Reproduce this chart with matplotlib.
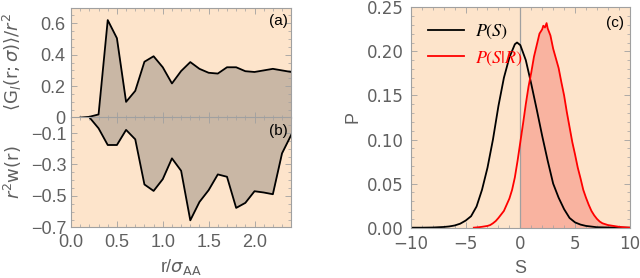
import matplotlib
matplotlib.use("Agg")
import matplotlib.pyplot as plt
from matplotlib.font_manager import FontProperties
from matplotlib.ticker import MultipleLocator

# Panel (a)/(b): pair correlation and r^2 w(r) vs r/sigma_AA
r_a = [0.1, 0.2, 0.3, 0.4, 0.5, 0.6, 0.7, 0.8, 0.9, 1.0, 1.1, 1.2, 1.3, 1.4,
       1.5, 1.6, 1.7, 1.8, 1.9, 2.0, 2.1, 2.2, 2.3, 2.4]
g_a = [0.0, 0.005, 0.02, 0.62, 0.505, 0.10, 0.17, 0.355, 0.39, 0.32, 0.217, 0.296,
       0.353, 0.31, 0.285, 0.28, 0.32, 0.32, 0.295, 0.29, 0.30, 0.31, 0.30, 0.29]

r_b = [0.2, 0.3, 0.4, 0.5, 0.6, 0.7, 0.8, 0.9, 1.0, 1.1, 1.2, 1.3, 1.4, 1.5,
       1.6, 1.7, 1.8, 1.9, 2.0, 2.1, 2.2, 2.3, 2.4]
w_b = [0.0, -0.07, -0.176, -0.176, -0.08, -0.14, -0.427, -0.468, -0.393, -0.261,
       -0.34, -0.655, -0.538, -0.463, -0.363, -0.378, -0.576, -0.544, -0.47,
       -0.478, -0.489, -0.229, -0.112]

# Panel (c): distributions P(S) and P(S|R)
s_all = [-10, -9, -8, -7, -6.5, -6, -5.5, -5, -4.5, -4, -3.5, -3, -2.5, -2, -1.5,
         -1, -0.5, -0.3, 0, 0.5, 1, 1.5, 2, 2.5, 3, 3.5, 4, 4.5, 5, 5.5, 6, 7, 8, 9, 10]
p_all = [0.0, 0.0, 0.0002, 0.0008, 0.0014, 0.0025, 0.0045, 0.008, 0.013, 0.024,
         0.043, 0.068, 0.100, 0.138, 0.170, 0.193, 0.208, 0.210, 0.207, 0.190,
         0.163, 0.134, 0.104, 0.076, 0.050, 0.034, 0.021, 0.011, 0.006, 0.0035,
         0.002, 0.0005, 0.0002, 0.0, 0.0]

s_r = [-4.25, -4, -3.75, -3.5, -3.25, -3, -2.75, -2.5, -2.25, -2, -1.75, -1.5,
       -1.25, -1, -0.75, -0.5, -0.25, 0, 0.25, 0.5, 0.75, 1, 1.25, 1.5, 1.75, 2,
       2.1, 2.25, 2.4, 2.5, 2.75, 3, 3.25, 3.5, 3.75, 4, 4.25, 4.5, 4.75, 5, 5.25,
       5.5, 5.75, 6, 6.25, 6.5, 6.75, 7, 7.25, 7.5, 7.75, 8, 8.5, 9, 9.5, 10]
p_r = [0.0, 0.0003, 0.0006, 0.001, 0.0015, 0.002, 0.003, 0.005, 0.0075, 0.011,
       0.015, 0.019, 0.026, 0.033, 0.043, 0.057, 0.076, 0.097, 0.118, 0.140,
       0.160, 0.176, 0.194, 0.207, 0.220, 0.225, 0.229, 0.227, 0.232, 0.226,
       0.218, 0.203, 0.192, 0.181, 0.165, 0.150, 0.131, 0.114, 0.097, 0.083,
       0.068, 0.056, 0.043, 0.034, 0.026, 0.019, 0.014, 0.010, 0.007, 0.005,
       0.004, 0.003, 0.002, 0.001, 0.0005, 0.0]

BG = "#fde4cb"
TAUPE = "#c9b7a5"
SALMON = "#f9b3a0"
FRAME = "#a0a0a0"
TXT = "#606060"

plt.rcParams["font.family"] = ["Liberation Sans", "DejaVu Sans"]
plt.rcParams["font.size"] = 13
plt.rcParams["mathtext.fontset"] = "dejavusans"

fig = plt.figure(figsize=(6.4, 2.78), dpi=100)
ax_a = fig.add_axes([0.111, 0.577, 0.344, 0.396])
ax_b = fig.add_axes([0.111, 0.182, 0.344, 0.396])
ax_c = fig.add_axes([0.642, 0.181, 0.342, 0.793])


def style(ax, size=13):
    ax.set_facecolor(BG)
    for sp in ax.spines.values():
        sp.set_color(FRAME)
        sp.set_linewidth(0.8)
    ax.tick_params(which="both", direction="in", top=True, right=True,
                   color=FRAME, labelcolor=TXT, labelsize=size)
    ax.tick_params(which="major", length=4, width=0.6)
    ax.tick_params(which="minor", length=2, width=0.5)


# (a)
style(ax_a)
ax_a.fill_between(r_a, g_a, 0, color=TAUPE, lw=0)
ax_a.plot(r_a, g_a, color="black", lw=1.3)
ax_a.set_xlim(0, 2.4)
ax_a.set_ylim(0, 0.7)
ax_a.set_yticks([0, 0.2, 0.4, 0.6])
ax_a.set_yticklabels(["0", "0.2", "0.4", "0.6"])
ax_a.yaxis.set_minor_locator(MultipleLocator(0.05))
ax_a.xaxis.set_major_locator(MultipleLocator(0.5))
ax_a.xaxis.set_minor_locator(MultipleLocator(0.1))
ax_a.tick_params(labelbottom=False, pad=4)
ax_a.text(0.985, 0.88, "(a)", transform=ax_a.transAxes, ha="right", va="center",
          fontsize=11, color="black")
ax_a.set_ylabel(r"$\langle \mathrm{G}_{l}(\mathrm{r};\sigma)\rangle/r^2$",
                color=TXT, fontsize=13, labelpad=2)

# (b)
style(ax_b)
ax_b.fill_between(r_b, w_b, 0, color=TAUPE, lw=0)
ax_b.plot(r_b, w_b, color="black", lw=1.3)
ax_b.set_xlim(0, 2.4)
ax_b.set_ylim(-0.7, 0)
ax_b.set_yticks([-0.1, -0.3, -0.5, -0.7])
ax_b.set_yticklabels(["\u22120.1", "\u22120.3", "\u22120.5", "\u22120.7"])
ax_b.yaxis.set_minor_locator(MultipleLocator(0.05))
ax_b.xaxis.set_minor_locator(MultipleLocator(0.1))
ax_b.set_xticks([0, 0.5, 1.0, 1.5, 2.0])
ax_b.set_xticklabels(["0.0", "0.5", "1.0", "1.5", "2.0"])
ax_b.tick_params(axis="x", pad=5)
ax_b.text(0.985, 0.88, "(b)", transform=ax_b.transAxes, ha="right", va="center",
          fontsize=11, color="black")
ax_b.set_ylabel(r"$r^2\mathrm{w(r)}$", color=TXT, fontsize=13)
ax_b.set_xlabel(r"r/$\sigma_{\mathrm{AA}}$", color=TXT, fontsize=13, labelpad=4)
ax_b.yaxis.set_label_coords(-0.215, 0.5)
ax_a.yaxis.set_label_coords(-0.215, 0.5)

# (c)
style(ax_c, size=12)
s_fill = [s for s in s_r if s >= 0]
p_fill = [p for s, p in zip(s_r, p_r) if s >= 0]
ax_c.fill_between(s_fill, p_fill, 0, color=SALMON, lw=0)
ax_c.axvline(0, color="#a0a0a0", lw=0.9)
ax_c.plot(s_all, p_all, color="black", lw=1.3, label=r"$P(S)$")
ax_c.plot(s_r, p_r, color="red", lw=1.3, label=r"$P(S|R)$")
ax_c.set_xlim(-10, 10)
ax_c.set_ylim(0, 0.25)
ax_c.set_xticks([-10, -5, 0, 5, 10])
ax_c.set_xticklabels(["\u221210", "\u22125", "0", "5", "10"], family="DejaVu Sans")
ax_c.set_yticks([0, 0.05, 0.10, 0.15, 0.20, 0.25])
ax_c.set_yticklabels(["0.00", "0.05", "0.10", "0.15", "0.20", "0.25"],
                     family="DejaVu Sans")
ax_c.xaxis.set_minor_locator(MultipleLocator(1))
ax_c.yaxis.set_minor_locator(MultipleLocator(0.01))
ax_c.tick_params(axis="x", pad=5)
ax_c.tick_params(axis="y", pad=5)
ax_c.set_xlabel("S", color=TXT, fontsize=13, labelpad=5)
ax_c.set_ylabel("P", color=TXT, fontsize=13, labelpad=4)
ax_c.text(0.975, 0.93, "(c)", transform=ax_c.transAxes, ha="right", va="center",
          fontsize=11, color="black")
leg = ax_c.legend(loc="upper left", bbox_to_anchor=(0.02, 0.985), frameon=False,
                  handlelength=2.0, handletextpad=0.6, borderaxespad=0.3,
                  labelspacing=0.45,
                  prop=FontProperties(size=13, math_fontfamily="stix"))
for txt, col in zip(leg.get_texts(), ["black", "red"]):
    txt.set_color(col)

fig.savefig("out.png", dpi=100)
